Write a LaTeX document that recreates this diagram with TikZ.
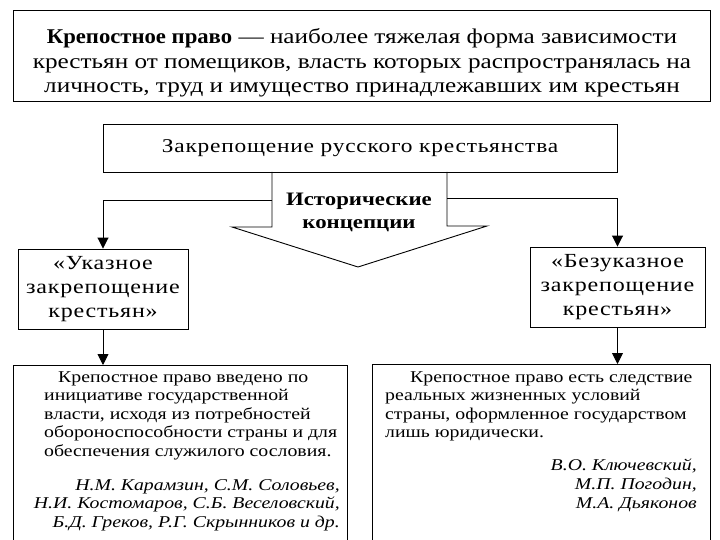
\documentclass[tikz,border=0pt]{standalone}
\usepackage{fontspec}
\setmainfont{Liberation Serif}[FakeStretch=1.2]
\usetikzlibrary{arrows.meta}
\begin{document}
\begin{tikzpicture}[x=1pt,y=-1pt,
  box/.style={draw, line width=0.9pt, inner sep=0pt},
  conn/.style={line width=0.9pt, -{Triangle[length=11pt,width=11pt]}},
  txt/.style={inner sep=0pt, align=center},
  concept/.style={box, align=center, font=\fontsize{20}{24}\selectfont\addfontfeature{LetterSpace=4}},
  body/.style={txt, anchor=north west, align=left, font=\fontsize{16.5}{18.6}\selectfont},
  auth/.style={txt, anchor=north east, align=right, font=\itshape\fontsize{16.5}{18.6}\selectfont},
]
\clip (0,0) rectangle (720,540);
\fill[white] (0,0) rectangle (720,540);
% definition
\node[box, minimum width=697pt, minimum height=91pt] (def) at (361.5,55.5) {};
\node[txt, font=\fontsize{21}{24.5}\selectfont] (deft) at (362,63)
  {\textbf{\addfontfeature{FakeStretch=1.08}Крепостное право} — наиболее тяжелая форма зависимости\\
   крестьян от помещиков, власть которых распространялась на\\
   личность, труд и имущество принадлежавших им крестьян};
% main box
\node[box, minimum width=514pt, minimum height=48pt,
      font=\fontsize{19.5}{23}\selectfont\addfontfeature{LetterSpace=4}] (main) at (360,148)
  {Закрепощение русского крестьянства};
% big arrow
\coordinate (al) at (272,172);
\coordinate (ar) at (447,172);
\draw[line width=0.9pt] (al) -- (272,227) -- (232,227) -- (358,267) -- (487,226) -- (447,226) -- (ar);
\node[txt, font=\bfseries\fontsize{19}{23}\selectfont] (hist) at (359,212) {Исторические\\концепции};
% concept boxes
\node[concept, minimum width=170pt, minimum height=80pt] (ukaz) at (103,289)
  {«Указное\\закрепощение\\крестьян»};
\node[concept, minimum width=175pt, minimum height=80pt] (bezukaz) at (617.5,287)
  {«Безуказное\\закрепощение\\крестьян»};
% bottom boxes
\node[box, minimum width=334pt, minimum height=190pt, anchor=north west] (lbox) at (13,365) {};
\node[box, minimum width=338pt, minimum height=190pt, anchor=north west] (rbox) at (372,364) {};
\node[body] (ltext) at (44,371)
  {\hspace*{14pt}Крепостное право введено по\\
   инициативе государственной\\
   власти, исходя из потребностей\\
   обороноспособности страны и для\\
   обеспечения служилого сословия.};
\node[auth] (lauth) at (340,479)
  {Н.М. Карамзин, С.М. Соловьев,\\
   Н.И. Костомаров, С.Б. Веселовский,\\
   Б.Д. Греков, Р.Г. Скрынников и др.};
\node[body] (rtext) at (385,371)
  {\hspace*{25pt}Крепостное право есть следствие\\
   реальных жизненных условий\\
   страны, оформленное государством\\
   лишь юридически.};
\node[auth] (rauth) at (697,459)
  {В.О. Ключевский,\\
   М.П. Погодин,\\
   М.А. Дьяконов};
% connectors
\draw[conn] (al |- 0,200) -| (ukaz.north);
\draw[conn] (ar |- 0,198) -| (bezukaz.north);
\draw[conn] (ukaz.south) -- (lbox.north -| ukaz.south);
\draw[conn] (bezukaz.south) -- (rbox.north -| bezukaz.south);
\end{tikzpicture}
\end{document}
